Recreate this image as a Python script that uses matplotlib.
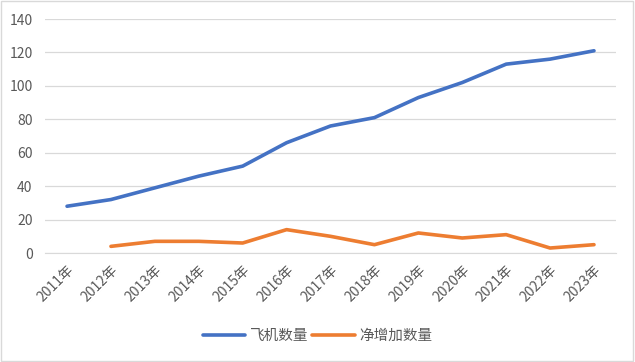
import matplotlib.pyplot as plt
from matplotlib.patches import Rectangle

plt.rcParams['font.family'] = ['Noto Sans CJK SC', 'DejaVu Sans']

years = ['2011年', '2012年', '2013年', '2014年', '2015年', '2016年', '2017年',
         '2018年', '2019年', '2020年', '2021年', '2022年', '2023年']
planes = [28, 32, 39, 46, 52, 66, 76, 81, 93, 102, 113, 116, 121]
net_add = [None, 4, 7, 7, 6, 14, 10, 5, 12, 9, 11, 3, 5]

fig = plt.figure(figsize=(6.35, 3.62), dpi=100)
ax = fig.add_axes([0.071, 0.301, 0.899, 0.6465])

x = list(range(len(years)))
ax.plot(x, planes, color='#4472C4', lw=2.6, label='飞机数量', solid_capstyle='round')
ax.plot(x[1:], net_add[1:], color='#ED7D31', lw=2.6, label='净增加数量', solid_capstyle='round')

ax.set_xlim(-0.5, len(years) - 0.5)
ax.set_ylim(0, 140)
ax.set_yticks(range(0, 141, 20))
ax.set_xticks(x)
ax.set_xticklabels(years, rotation=45, ha='right', rotation_mode='anchor')
ax.tick_params(length=0, labelsize=10, colors='#595959')
ax.tick_params(axis='x', pad=7)
ax.tick_params(axis='y', pad=9)
ax.grid(axis='y', color='#D9D9D9', lw=0.9)
ax.set_axisbelow(True)
for s in ['top', 'right', 'left']:
    ax.spines[s].set_visible(False)
ax.spines['bottom'].set_color('#D9D9D9')

leg = fig.legend(loc='center', bbox_to_anchor=(0.5, 0.072), ncol=2, frameon=False,
                 fontsize=10.5, handlelength=2.9, columnspacing=0.3, handletextpad=0.3)
for t in leg.get_texts():
    t.set_color('#595959')

fig.patches.append(Rectangle((0.002, 0.003), 0.995, 0.993, transform=fig.transFigure,
                             fill=False, edgecolor='#D9D9D9', lw=1))

fig.savefig('out.png', dpi=100)
